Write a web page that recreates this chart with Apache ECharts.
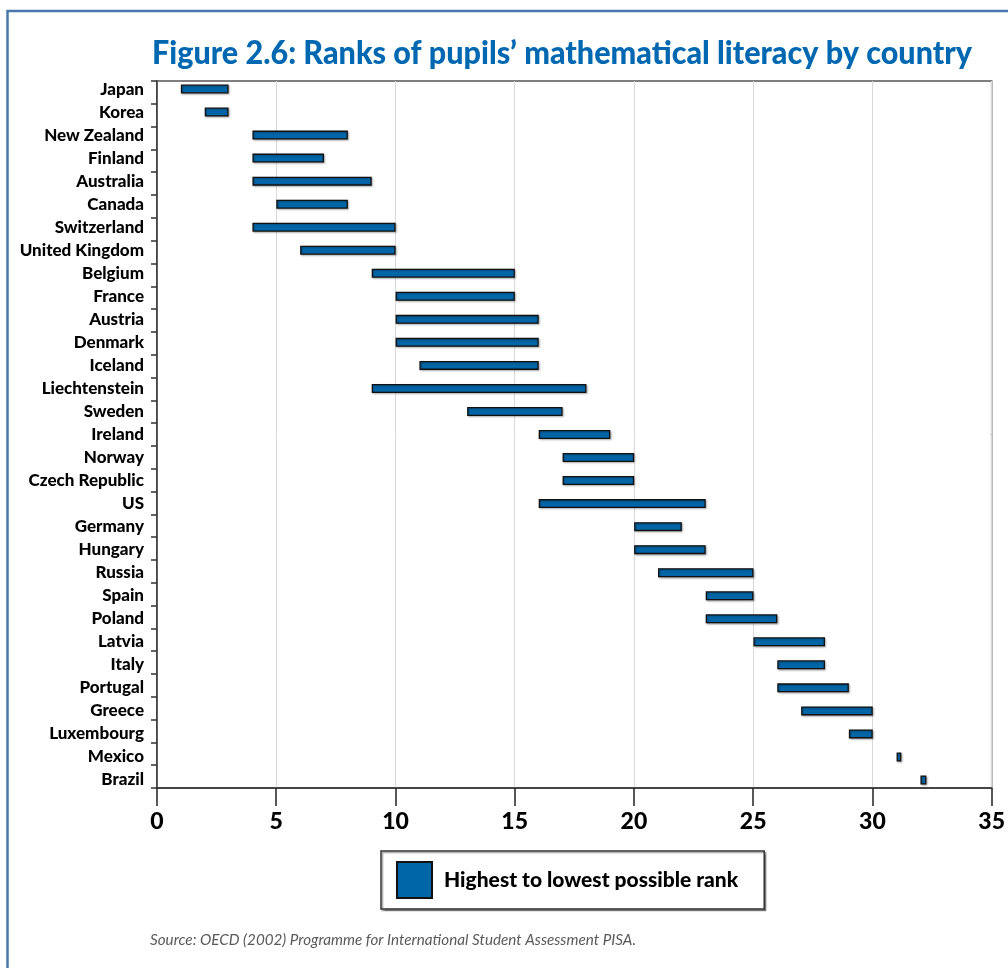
<!DOCTYPE html>
<html>
<head>
<meta charset="utf-8">
<script src="https://cdn.jsdelivr.net/npm/echarts@6/dist/echarts.min.js"></script>
<style>
html,body{margin:0;padding:0;background:#fff;}
#chart{width:1008px;height:968px;}
</style>
</head>
<body>
<div id="chart"></div>
<script>
// ---- data ----
const titleText = 'Figure 2.6: Ranks of pupils\u2019 mathematical literacy by country';
const sourceText = 'Source: OECD (2002) Programme for International Student Assessment PISA.';
const legendName = 'Highest to lowest possible rank';
const countries = ['Japan','Korea','New Zealand','Finland','Australia','Canada','Switzerland','United Kingdom','Belgium','France','Austria','Denmark','Iceland','Liechtenstein','Sweden','Ireland','Norway','Czech Republic','US','Germany','Hungary','Russia','Spain','Poland','Latvia','Italy','Portugal','Greece','Luxembourg','Mexico','Brazil'];
const highestRank = [1,2,4,4,4,5,4,6,9,10,10,10,11,9,13,16,17,17,16,20,20,21,23,23,25,26,26,27,29,31,32];
const lowestRank  = [3,3,8,7,9,8,10,10,15,15,16,16,16,18,17,19,20,20,23,22,23,25,25,26,28,28,29,30,30,31.2,32.25];
const xTicks = {min:0, max:35, interval:5};

// ---- chart ----
const chart = echarts.init(document.getElementById('chart'), null, {renderer:'canvas'});
const rangeLen = lowestRank.map((v,i)=> +(v - highestRank[i]).toFixed(3));

const ctx = document.createElement('canvas').getContext('2d');
ctx.font = '900 32px Lato';
const titleScale = 820 / ctx.measureText(titleText).width;
ctx.font = 'italic 15px Lato';
const srcScale = 486 / ctx.measureText(sourceText).width;

const option = {
  animation:false,
  backgroundColor:'#fff',
  grid:[
    {left:157, top:81, width:835, height:707, show:true, borderColor:'#555', borderWidth:1.5, backgroundColor:'transparent'},
    {left:157, top:77.5, width:835, height:714}
  ],
  xAxis:[
    {gridIndex:0, type:'value', min:xTicks.min, max:xTicks.max, interval:xTicks.interval,
     axisLine:{show:true, lineStyle:{color:'#333', width:1.5}},
     axisTick:{show:true, length:18, lineStyle:{color:'#222', width:1.5}},
     axisLabel:{color:'#000', fontFamily:'Lato', fontWeight:900, fontSize:23, margin:22},
     splitLine:{show:true, lineStyle:{color:'#d9d9d9', width:1}}},
    {gridIndex:1, type:'value', min:xTicks.min, max:xTicks.max, show:false}
  ],
  yAxis:[
    {gridIndex:0, type:'category', data:countries, inverse:true,
     axisLine:{show:true, lineStyle:{color:'#333', width:1.5}},
     axisTick:{show:true, length:6, lineStyle:{color:'#333', width:1.5}},
     axisLabel:{show:false}, splitLine:{show:false}},
    {gridIndex:1, type:'category', data:countries, inverse:true,
     axisLine:{show:false}, axisTick:{show:false},
     axisLabel:{show:true, color:'#000', fontFamily:'Lato', fontWeight:900, fontSize:17, margin:13}}
  ],
  legend:{
    data:[legendName], left:381, top:851, icon:'rect', itemWidth:35, itemHeight:36,
    padding:[10,26,10,15], borderColor:'#333', borderWidth:1.5, backgroundColor:'#fff',
    shadowColor:'rgba(0,0,0,0.35)', shadowOffsetX:1.5, shadowOffsetY:1.5, shadowBlur:1,
    textStyle:{color:'#000', fontFamily:'Lato', fontWeight:900, fontSize:21, padding:[0,0,0,7]},
    selectedMode:false
  },
  series:[
    {name:'base', type:'bar', stack:'r', xAxisIndex:1, yAxisIndex:1, data:highestRank, barWidth:9, silent:true,
     itemStyle:{color:'transparent'}},
    {name:legendName, type:'bar', stack:'r', xAxisIndex:1, yAxisIndex:1, data:rangeLen, barWidth:9,
     itemStyle:{color:'#0066a8', borderColor:'#111', borderWidth:1.3,
       shadowColor:'rgba(0,0,0,0.3)', shadowBlur:2, shadowOffsetX:1, shadowOffsetY:1}}
  ],
  graphic:[
    {type:'polyline', shape:{points:[[7.5,968],[7.5,11],[1008,11]]}, style:{stroke:'#4a78aa', lineWidth:2.5, fill:null}},
    {type:'text', x:152, y:54, scaleX:titleScale, style:{text:titleText, font:'900 32px Lato', fill:'#0068b0', verticalAlign:'middle', align:'left'}},
    {type:'text', x:150, y:940, scaleX:srcScale, style:{text:sourceText, font:'italic 15px Lato', fill:'#5a5a5a', verticalAlign:'middle', align:'left'}}
  ]
};
chart.setOption(option);
</script>
</body>
</html>
